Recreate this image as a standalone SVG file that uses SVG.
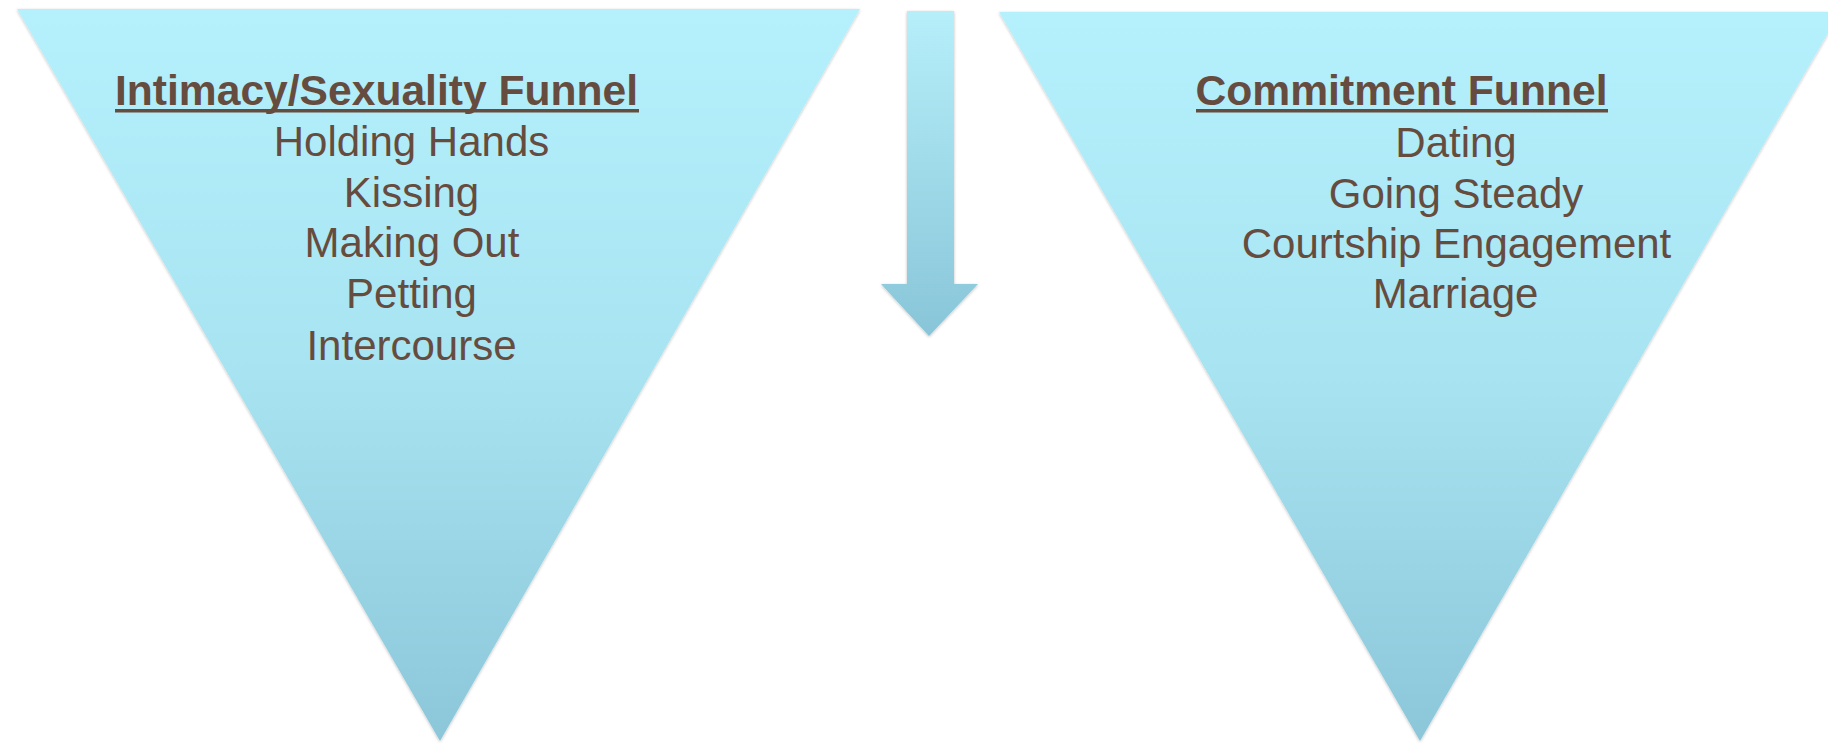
<svg xmlns="http://www.w3.org/2000/svg" width="1828" height="744" viewBox="0 0 1828 744">
<defs>
<linearGradient id="fg" x1="0" y1="0" x2="0" y2="1">
<stop offset="0" stop-color="#b5f1fd"/>
<stop offset="0.5" stop-color="#a7e3f0"/>
<stop offset="1" stop-color="#8bc7d9"/>
</linearGradient>
<linearGradient id="ag" x1="0" y1="0" x2="0" y2="1">
<stop offset="0" stop-color="#b6effa"/>
<stop offset="1" stop-color="#88c5d8"/>
</linearGradient>
<filter id="sh" x="-5%" y="-5%" width="110%" height="110%">
<feDropShadow dx="0" dy="1" stdDeviation="1.5" flood-color="#000" flood-opacity="0.25"/>
</filter>
<style>
.t{font-family:"Liberation Sans",Arial,sans-serif;fill:#664c3f;text-anchor:middle}
.h{font-size:42.5px;font-weight:bold}
.i{font-size:42px}
.u{fill:#664c3f}
</style>
</defs>
<g id="funnel-left">
<polygon points="17,9 860,9 440,741" fill="url(#fg)" filter="url(#sh)"/>
<text class="t h" x="376.5" y="105" textLength="523" lengthAdjust="spacingAndGlyphs">Intimacy/Sexuality Funnel</text>
<rect class="u" x="115" y="109" width="524" height="3.5"/>
<text class="t i" x="411.5" y="156">Holding Hands</text>
<text class="t i" x="411.5" y="207">Kissing</text>
<text class="t i" x="412" y="257">Making Out</text>
<text class="t i" x="411.5" y="308">Petting</text>
<text class="t i" x="411.5" y="360">Intercourse</text>
</g>
<g id="arrow">
<polygon points="907,11 954,11 954,284 978,284 929,336 881,284 907,284" fill="url(#ag)" filter="url(#sh)"/>
</g>
<g id="funnel-right">
<polygon points="999,12 1840,12 1420,741" fill="url(#fg)" filter="url(#sh)"/>
<text class="t h" x="1401.5" y="105" textLength="412" lengthAdjust="spacingAndGlyphs">Commitment Funnel</text>
<rect class="u" x="1196" y="109" width="412" height="3.5"/>
<text class="t i" x="1456" y="157">Dating</text>
<text class="t i" x="1456" y="208">Going Steady</text>
<text class="t i" x="1456.5" y="258">Courtship Engagement</text>
<text class="t i" x="1455.5" y="308">Marriage</text>
</g>
<g id="connectors"></g>
</svg>
